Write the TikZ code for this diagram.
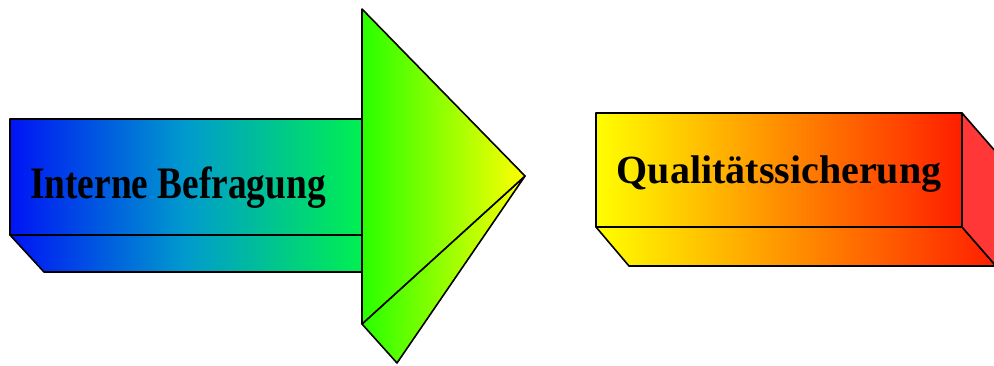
\documentclass[tikz,border=0pt]{standalone}
\usepackage{fontspec}
\setmainfont{Liberation Serif}
\definecolor{cblue}{RGB}{0,20,245}
\definecolor{cmid}{RGB}{0,155,205}
\definecolor{cgreenA}{RGB}{0,240,80}
\definecolor{cgreenB}{RGB}{40,255,0}
\definecolor{cyel}{RGB}{255,255,0}
\definecolor{cred}{RGB}{255,30,0}
\definecolor{cside}{RGB}{255,55,55}
\tikzset{
  edge/.style={draw=black, line width=1.6pt, line join=round},
  label/.style={font=\bfseries, text=black, inner sep=0pt, anchor=base}
}
\begin{document}
\begin{tikzpicture}[x=1pt,y=-1pt]
\useasboundingbox (0,0) rectangle (994,365);
\clip (0,0) rectangle (994,365);
% left box
\shade[left color=cblue, right color=cgreenA, middle color=cmid, edge] (10,235) -- (362,235) -- (362,272) -- (44,272) -- cycle;
\shade[left color=cblue, right color=cgreenA, middle color=cmid, edge] (10,119) rectangle (362,235);
% arrow head
\shade[left color=cgreenB, right color=cyel, edge] (362,324) -- (525,176) -- (397,363) -- cycle;
\shade[left color=cgreenB, right color=cyel, edge] (362,9) -- (525,176) -- (362,324) -- cycle;
% right box
\shade[left color=cyel, right color=cred, edge] (596,227) -- (962,227) -- (996,266) -- (629,266) -- cycle;
\fill[cside, edge] (962,113) -- (996,152) -- (996,266) -- (962,227) -- cycle;
\shade[left color=cyel, right color=cred, edge] (596,113) rectangle (962,227);
% labels
\node[label, font=\fontsize{45}{50}\selectfont\bfseries, xscale=0.83] (l1) at (178,198) {Interne Befragung};
\node[label, font=\fontsize{40}{46}\selectfont\bfseries] (l2) at (779,183) {Qualitätssicherung};
\end{tikzpicture}
\end{document}
